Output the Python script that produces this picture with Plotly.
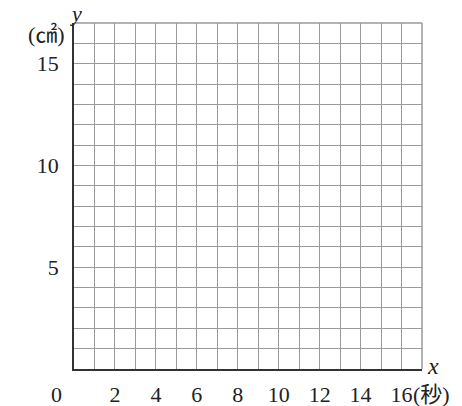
import plotly.graph_objects as go

# axis ranges (grid is 17 x 17 squares)
x_max = 17
y_max = 17

x_tick_vals = [2, 4, 6, 8, 10, 12, 14, 16]
x_tick_text = ["2", "4", "6", "8", "10", "12", "14", "16"]
y_tick_vals = [5, 10, 15]
y_tick_text = ["5", "10", "15"]

serif = "Liberation Serif, Noto Sans CJK JP, serif"
grid_col = "#9a9a9a"
axis_col = "#333333"
txt_col = "#222222"

fig = go.Figure()

# empty trace so the axes are drawn
fig.add_trace(go.Scatter(x=[0, x_max], y=[0, y_max], mode="markers",
                         marker=dict(opacity=0), hoverinfo="skip",
                         showlegend=False))

axis_style = dict(
    showgrid=True, gridcolor=grid_col, gridwidth=1,
    minor=dict(dtick=1, tick0=0, showgrid=True, gridcolor=grid_col, gridwidth=1),
    showline=True, linecolor=axis_col, linewidth=1.5,
    zeroline=False, ticks="", automargin=False,
    tickfont=dict(family=serif, size=22, color=txt_col),
    fixedrange=True,
)
fig.update_xaxes(range=[0, x_max], tickvals=x_tick_vals, ticktext=x_tick_text,
                 ticklabelstandoff=5, **axis_style)
fig.update_yaxes(range=[0, y_max], tickvals=y_tick_vals, ticktext=y_tick_text,
                 ticklabelstandoff=9, **axis_style)

# border on top / right in grid colour
fig.add_shape(type="line", xref="paper", yref="paper", x0=0, x1=1, y0=1, y1=1,
              line=dict(color=grid_col, width=1.5))
fig.add_shape(type="line", xref="paper", yref="paper", x0=1, x1=1, y0=0, y1=1,
              line=dict(color=grid_col, width=1.5))

annots = [
    dict(x=0, y=0, text="0", xanchor="center", yanchor="middle",
         xshift=-18, yshift=-25, font=dict(family=serif, size=22, color=txt_col)),
    dict(x=16, y=0, text="(秒)", xanchor="left", yanchor="middle",
         xshift=9, yshift=-25, font=dict(family=serif, size=22, color=txt_col)),
    dict(x=x_max, y=0, text="<i>x</i>", xanchor="left", yanchor="middle",
         xshift=3, yshift=3, font=dict(family=serif, size=24, color=txt_col)),
    dict(x=0, y=y_max, text="<i>y</i>", xanchor="center", yanchor="middle",
         xshift=2, yshift=10, font=dict(family=serif, size=22, color=txt_col)),
    dict(x=0, y=y_max, text="(㎠)", xanchor="center", yanchor="middle",
         xshift=-28, yshift=-11, font=dict(family=serif, size=22, color=txt_col)),
]
for a in annots:
    fig.add_annotation(xref="x", yref="y", showarrow=False, **a)

fig.update_layout(
    width=462, height=406,
    margin=dict(l=74, r=40, t=23, b=37),
    plot_bgcolor="white", paper_bgcolor="white",
)

# drop the default 8px body margin so the figure fills the window
fig.write_html("out.html", config={"displayModeBar": False},
               post_script="document.body.style.margin='0';document.body.style.overflow='hidden';")
